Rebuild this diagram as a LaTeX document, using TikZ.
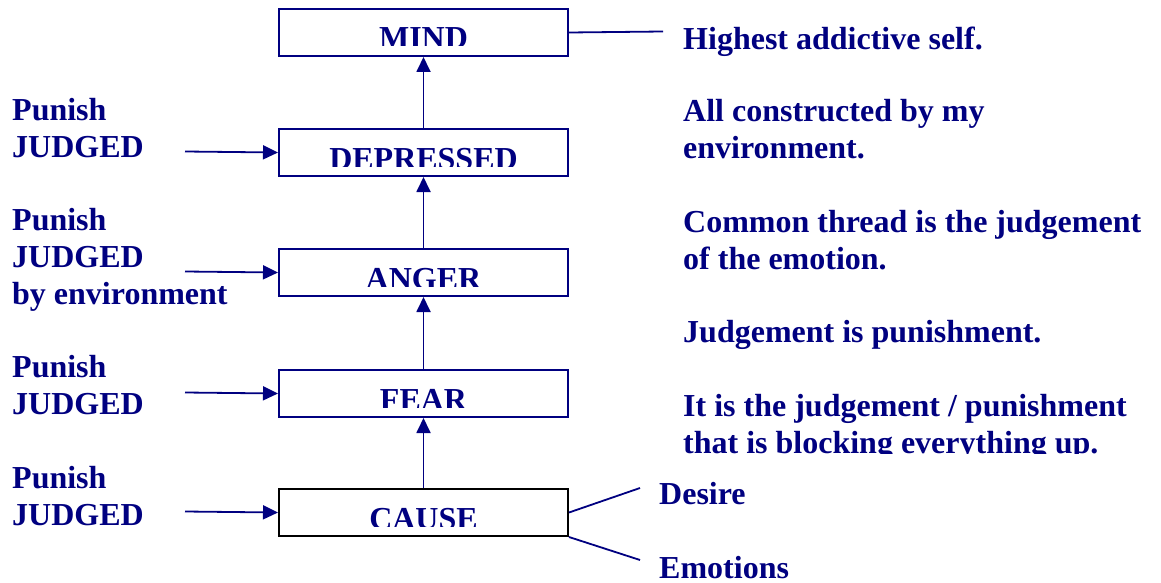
\documentclass[tikz,border=0pt]{standalone}
\usepackage{fontspec}
\setmainfont{Liberation Serif}
\usetikzlibrary{arrows.meta}
\definecolor{navy}{RGB}{0,0,128}
\begin{document}
\begin{tikzpicture}[x=1pt,y=-1pt,
  txt/.style={font=\bfseries\fontsize{32}{37}\selectfont, text=navy, inner sep=0pt, align=left},
  stagebox/.style={draw=navy, line width=2pt, minimum width=289pt, minimum height=47pt, inner sep=0pt, anchor=north west,
    path picture={\clip (path picture bounding box.north west) rectangle ([yshift=10pt]path picture bounding box.south east);
      \node[anchor=base, font=\bfseries\fontsize{32}{37}\selectfont, text=navy, inner sep=0pt] at ([yshift=-40pt]path picture bounding box.north) {#1};}},
  arr/.style={draw=navy, line width=1.8pt, -{Triangle[length=15pt,width=14pt]}},
  conn/.style={draw=navy, line width=1.8pt}]
\useasboundingbox (0,0) rectangle (1161,583);

% stage boxes
\node[stagebox=MIND] (mind) at (278,8) {};
\node[stagebox=DEPRESSED] (depressed) at (278,128) {};
\node[stagebox=ANGER] (anger) at (278,248) {};
\node[stagebox=FEAR] (fear) at (278,369) {};
\node[stagebox=CAUSE, draw=black] (cause) at (278,488) {};

% vertical arrows
\draw[arr] (depressed.north) -- (mind.south);
\draw[arr] (anger.north) -- (depressed.south);
\draw[arr] (fear.north) -- (anger.south);
\draw[arr] (cause.north) -- (fear.south);

% left labels and arrows
\node[txt, anchor=west] (p1) at (12,128) {Punish\\JUDGED};
\node[txt, anchor=west] (p2) at (12,260) {Punish\\JUDGED\\by environment};
\node[txt, anchor=west] (p3) at (12,385.5) {Punish\\JUDGED};
\node[txt, anchor=west] (p4) at (12,496.5) {Punish\\JUDGED};
\coordinate (a1) at (185,151.5);
\coordinate (a2) at (185,271.5);
\coordinate (a3) at (185,392.5);
\coordinate (a4) at (185,511.5);
\draw[arr] (a1) -- (depressed.west);
\draw[arr] (a2) -- (anger.west);
\draw[arr] (a3) -- (fear.west);
\draw[arr] (a4) -- (cause.west);

% right texts
\coordinate (m1) at (663,31.5);
\draw[conn] (mind.east) -- (m1);
\node[txt, anchor=west] (t1) at (683,42) {Highest addictive self.};
\node[txt, anchor=west] (t2) at (683,129.5) {All constructed by my\\environment.};
\node[txt, anchor=west] (t3) at (683,240.5) {Common thread is the judgement\\of the emotion.};
\node[txt, anchor=west] (t4) at (683,335) {Judgement is punishment.};
\begin{scope}
\clip (660,380) rectangle (1161,453);
\node[txt, anchor=west] (t5) at (683,427.5) {It is the judgement / punishment\\that is blocking everything up.};
\end{scope}

% cause branches
\coordinate (d1) at (640,488);
\coordinate (e1) at (640,560);
\draw[conn] (cause.east) -- (d1);
\draw[conn] (cause.south east) -- (e1);
\node[txt, anchor=west] (desire) at (659,494) {Desire};
\node[txt, anchor=west] (emotions) at (659,568) {Emotions};
\end{tikzpicture}
\end{document}
